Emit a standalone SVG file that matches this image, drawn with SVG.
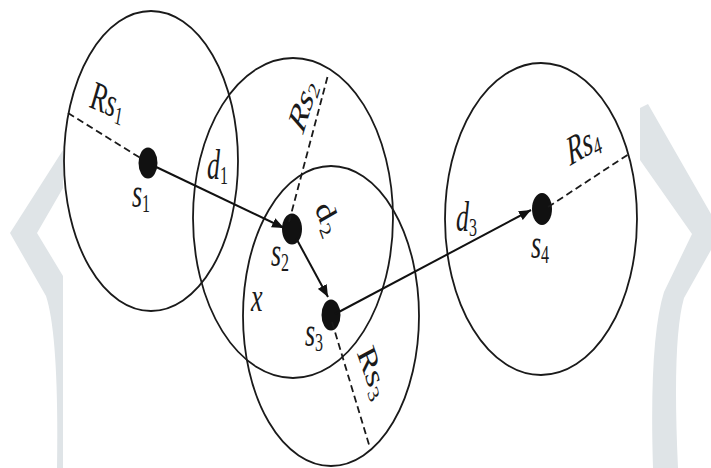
<svg xmlns="http://www.w3.org/2000/svg" width="711" height="468" viewBox="0 0 711 468">
<defs>
<marker id="ah" viewBox="0 0 12 10" refX="12" refY="5" markerWidth="12" markerHeight="10" markerUnits="userSpaceOnUse" orient="auto">
<path d="M0,0 L12,5 L0,10 Z" fill="#111"/>
</marker>
<style>
.range{fill:none;stroke:#1a1a1a;stroke-width:1.8}
.dot{fill:#111}
.dash{fill:none;stroke:#1a1a1a;stroke-width:1.8;stroke-dasharray:7 4}
.arrow{fill:none;stroke:#111;stroke-width:2;marker-end:url(#ah)}
.wm{fill:#dfe4e7}
text{font-family:"Liberation Serif","Times New Roman",serif;font-style:italic;font-size:26px;fill:#1a1a1a}
.sub{font-style:normal;font-size:16px}
</style>
</defs>
<rect width="711" height="468" fill="#fff"/>
<g id="watermark">
<path class="wm" d="M63,150 L10,233 L46,296 Q59,336 57,468 L63,468 L63,276 L37,233 L63,188 Z"/>
<path class="wm" d="M640,108 L648,104 L711,214 L711,250 L684,298 Q672,340 678,468 L653,468 Q649,340 664,292 L692,234 L640,160 Z"/>
</g>
<g id="n1">
<ellipse class="range" cx="151" cy="161" rx="87" ry="150"/>
<ellipse class="dot" cx="148" cy="163" rx="9.5" ry="15.5"/>
<text transform="translate(132,207) scale(1,1.6)">s<tspan class="sub" dy="3">1</tspan></text>
<text transform="translate(89,107) scale(1,1.6) rotate(15)">Rs<tspan class="sub" dy="3">1</tspan></text>
</g>
<g id="n2">
<ellipse class="range" cx="293" cy="218" rx="100" ry="160"/>
<ellipse class="dot" cx="292" cy="229" rx="10" ry="15.5"/>
<text transform="translate(271,266) scale(1,1.6)">s<tspan class="sub" dy="3">2</tspan></text>
<text transform="translate(303,135) scale(1,1.6) rotate(-64)">Rs<tspan class="sub" dy="3">2</tspan></text>
</g>
<g id="n3">
<ellipse class="range" cx="331" cy="316" rx="88" ry="150"/>
<ellipse class="dot" cx="331" cy="315" rx="9.5" ry="15.5"/>
<text transform="translate(305,346) scale(1,1.6)">s<tspan class="sub" dy="3">3</tspan></text>
<text transform="translate(357,354) scale(1,1.6) rotate(61)">Rs<tspan class="sub" dy="3">3</tspan></text>
<text transform="translate(251,311) scale(1,1.6)">x</text>
</g>
<g id="n4">
<ellipse class="range" cx="541" cy="219" rx="96" ry="156"/>
<ellipse class="dot" cx="542" cy="209" rx="10" ry="16"/>
<text transform="translate(531,258) scale(1,1.6)">s<tspan class="sub" dy="3">4</tspan></text>
<text transform="translate(570,166) scale(1,1.6) rotate(-20)">Rs<tspan class="sub" dy="3">4</tspan></text>
</g>
<g id="connectors">
<line class="dash" x1="68" y1="113" x2="142" y2="159"/>
<line class="dash" x1="289" y1="222" x2="328" y2="75"/>
<line class="dash" x1="332" y1="322" x2="370" y2="448"/>
<line class="dash" x1="548" y1="207" x2="629" y2="154"/>
<line class="arrow" x1="152" y1="165" x2="284" y2="228"/>
<line class="arrow" x1="296" y1="238" x2="328" y2="297"/>
<line class="arrow" x1="335" y1="314" x2="531" y2="210"/>
<text transform="translate(207,179) scale(1,1.6)">d<tspan class="sub" dy="3">1</tspan></text>
<text transform="translate(315,209) scale(1,1.6) rotate(60)">d<tspan class="sub" dy="3">2</tspan></text>
<text transform="translate(456,231) scale(1,1.6)">d<tspan class="sub" dy="3">3</tspan></text>
</g>
</svg>
